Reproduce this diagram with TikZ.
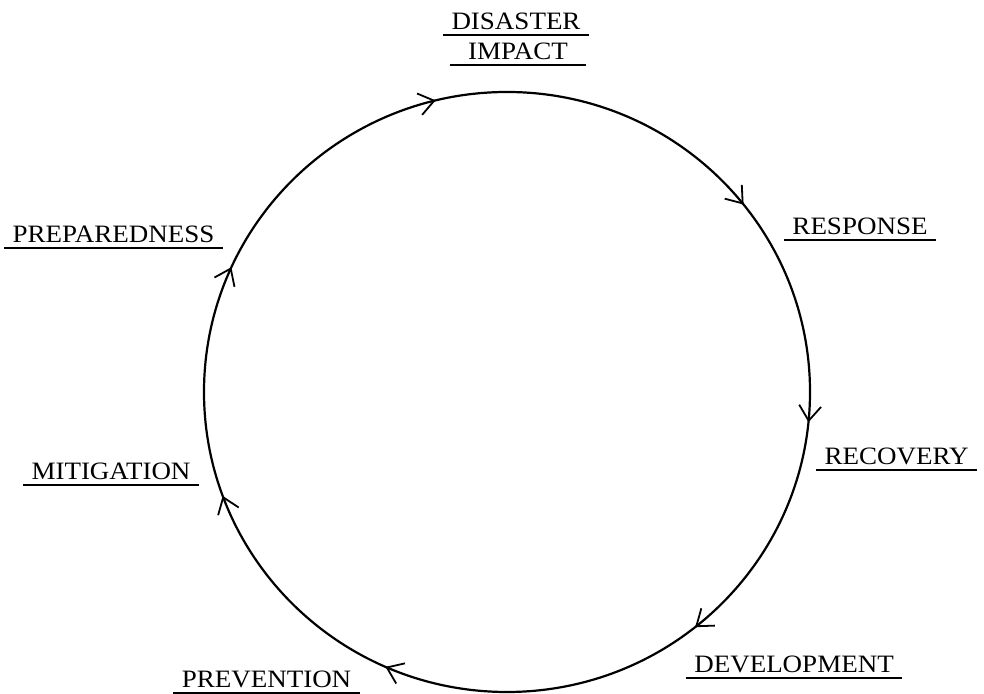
\documentclass[tikz,border=0pt]{standalone}
\usepackage{fontspec}
\setmainfont{Liberation Serif}[FakeStretch=1.08]
\usetikzlibrary{arrows.meta,decorations.markings}
\tikzset{
  phase/.style={anchor=base,font=\fontsize{12.5pt}{15pt}\selectfont,
    text depth=0pt,inner xsep=4pt,inner ysep=2.5pt},
  uline/.style={line width=1pt},
  /pgf/decoration/cwtip/.style={mark=at position #1 with {\arrowreversed[line width=0.9pt]{Straight Barb[length=7.5pt,width=11pt]}}}
}
\begin{document}
\begin{tikzpicture}[x=0.5pt,y=0.5pt]
  \useasboundingbox (0,0) rectangle (984,694);
  \coordinate (c) at (507,302);
  \draw[line width=1.1pt,postaction={decorate,decoration={markings,
      cwtip=0.107,cwtip=0.288,cwtip=0.432,cwtip=0.556,cwtip=0.684,cwtip=0.857,cwtip=0.984}}]
    (c) ellipse [x radius=303,y radius=300];
  \node[phase,minimum width=68pt] (dis) at (516,664) {DISASTER};
  \node[phase,minimum width=68pt] (imp) at (518,634) {IMPACT};
  \node[phase] (prep) at (113.5,451) {PREPAREDNESS};
  \node[phase] (resp) at (860,459) {RESPONSE};
  \node[phase] (mit) at (111,214) {MITIGATION};
  \node[phase] (rec) at (896.5,229) {RECOVERY};
  \node[phase] (dev) at (794,21) {DEVELOPMENT};
  \node[phase] (prev) at (266.5,6) {PREVENTION};
  \foreach \n in {dis,imp,prep,resp,mit,rec,dev,prev}
    \draw[uline] (\n.south west) -- (\n.south east);
\end{tikzpicture}
\end{document}
